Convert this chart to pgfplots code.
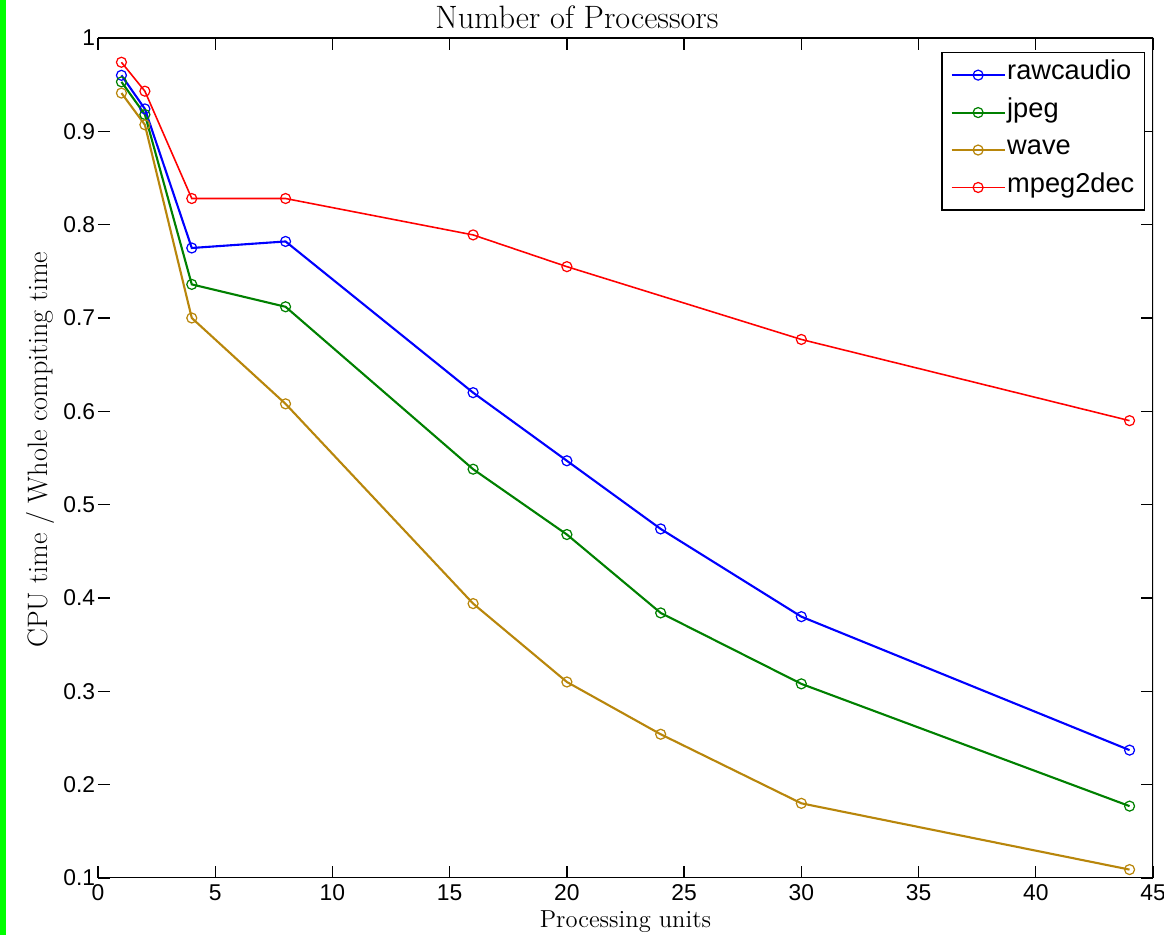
\documentclass[border=0pt]{standalone}
\usepackage{pgfplots}
\pgfplotsset{compat=1.18}
\usepackage{fontspec}
\newfontfamily\helv{Liberation Sans}
\definecolor{cblue}{RGB}{0,0,255}
\definecolor{cgreen}{RGB}{0,128,0}
\definecolor{cwave}{RGB}{184,134,11}
\definecolor{cred}{RGB}{255,0,0}
\begin{document}
\begin{tikzpicture}
\begin{axis}[
  scale only axis,
  width=211mm, height=168mm,
  xmin=0, xmax=45, ymin=0.1, ymax=1,
  xtick={0,5,10,15,20,25,30,35,40,45},
  ytick={0.1,0.2,0.3,0.4,0.5,0.6,0.7,0.8,0.9,1},
  yticklabels={0.1,0.2,0.3,0.4,0.5,0.6,0.7,0.8,0.9,1},
  tick align=inside,
  tick pos=both,
  major tick length=2.4mm,
  every tick/.style={black, line width=0.8pt},
  axis line style={draw=none},
  /pgf/number format/assume math mode=true,
  tick label style={font=\fontsize{13}{15}\helv},
  xticklabel style={inner sep=1.2mm},
  yticklabel style={inner sep=0.5mm},
  title={Number of Processors},
  title style={font=\fontsize{18.4}{21}\selectfont, at={(0.454,1)}, anchor=base, yshift=-0.3mm},
  xlabel={Processing units},
  xlabel style={font=\fontsize{14}{17}\selectfont, at={(0.5,0)}, anchor=base, inner sep=0pt, yshift=-10mm},
  ylabel={CPU time / Whole compiting time},
  ylabel style={font=\fontsize{16}{19}\selectfont, at={(-0.055,0.51)}, anchor=center},
  legend style={at={(1,1)}, anchor=north east, xshift=-1.6mm, yshift=-2.8mm,
    draw=black, line width=0.7pt, font=\fontsize{15.5}{18}\helv,
    inner xsep=1.7mm, inner ysep=2.2mm, row sep=8.2pt,
    nodes={inner xsep=0.3mm, inner ysep=0.6mm, text depth=0.22em, text height=0.75em},
    cells={anchor=west}},
  legend image code/.code={\draw[mark repeat=2,mark phase=2,#1] plot coordinates {(0mm,0mm) (5.3mm,0mm) (10.6mm,0mm)};},
  mark size=1mm,
]
\addplot[cblue, line width=1.2pt, mark=o, mark options={line width=0.7pt}] coordinates {
 (1,0.960) (2,0.924) (4,0.775) (8,0.782) (16,0.620) (20,0.547) (24,0.474) (30,0.380) (44,0.237)};
\addlegendentry{rawcaudio}
\addplot[cgreen, line width=1.2pt, mark=o, mark options={line width=0.7pt}] coordinates {
 (1,0.953) (2,0.918) (4,0.736) (8,0.712) (16,0.538) (20,0.468) (24,0.384) (30,0.308) (44,0.177)};
\addlegendentry{jpeg}
\addplot[cwave, line width=1.2pt, mark=o, mark options={line width=0.7pt}] coordinates {
 (1,0.941) (2,0.907) (4,0.700) (8,0.608) (16,0.394) (20,0.310) (24,0.254) (30,0.180) (44,0.109)};
\addlegendentry{wave}
\addplot[cred, line width=0.9pt, mark=o, mark options={line width=0.7pt}] coordinates {
 (1,0.974) (2,0.943) (4,0.828) (8,0.828) (16,0.789) (20,0.755) (30,0.677) (44,0.590)};
\addlegendentry{mpeg2dec}
\draw[black, line width=1pt] (rel axis cs:0,0) -- (rel axis cs:1,0) -- (rel axis cs:1,1) -- (rel axis cs:0,1);
\end{axis}
\pgfresetboundingbox
\path[use as bounding box] ([xshift=-19.6mm,yshift=-11.4mm]current axis.south west) rectangle ([xshift=2.2mm,yshift=7.6mm]current axis.north east);
\fill[green] ([xshift=-19.6mm,yshift=-11.4mm]current axis.south west) rectangle ([xshift=-18.4mm,yshift=7.6mm]current axis.north west);
\end{tikzpicture}
\end{document}
